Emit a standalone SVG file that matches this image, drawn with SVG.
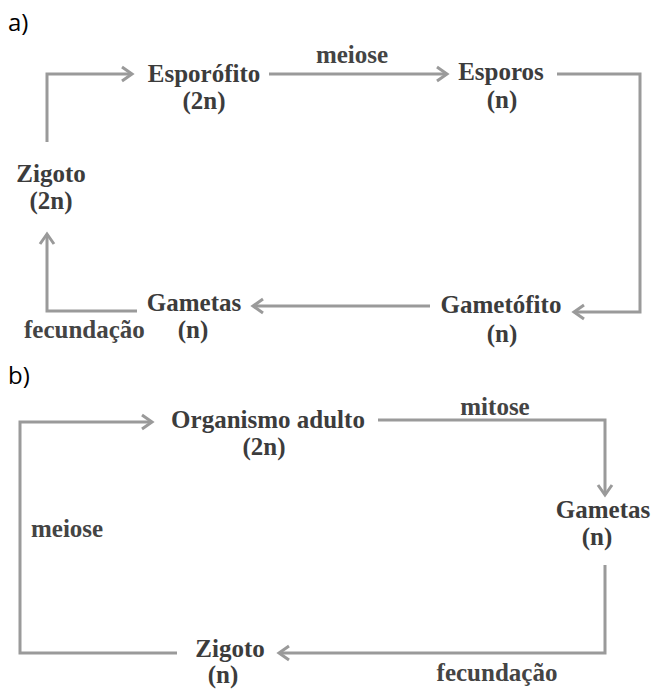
<svg xmlns="http://www.w3.org/2000/svg" width="653" height="689" viewBox="0 0 653 689">
  <style>
    .lbl { font-family: "Liberation Serif", "Times New Roman", serif; font-size: 25px; font-weight: bold; fill: #3c3c3c; text-anchor: middle; }
    .edge-lbl { font-family: "Liberation Serif", "Times New Roman", serif; font-size: 25px; font-weight: bold; fill: #444444; }
    .part { font-family: "Open Sans", "Liberation Sans", sans-serif; font-size: 24px; fill: #000000; }
    .conn { fill: none; stroke: #9a9a9a; stroke-width: 3; stroke-linejoin: miter; marker-end: url(#chev); }
  </style>
  <defs>
    <marker id="chev" markerUnits="userSpaceOnUse" markerWidth="20" markerHeight="20" viewBox="-12 -10 14 20" refX="0" refY="0" orient="auto">
      <path d="M-10,-7 L0,0 L-10,7" fill="none" stroke="#9a9a9a" stroke-width="3" stroke-linejoin="miter"/>
    </marker>
  </defs>

  <!-- part labels -->
  <text class="part" x="8" y="31">a)</text>
  <text class="part" x="8" y="384">b)</text>

  <!-- connectors: cycle a (haplodiplobionte) and cycle b (diplobionte) -->
  <g id="connectors">
    <path class="conn" d="M47,142 V74 H132"/>
    <path class="conn" d="M269,74 H447"/>
    <path class="conn" d="M557,74 H640 V312 H574"/>
    <path class="conn" d="M430,306 H253"/>
    <path class="conn" d="M137,311 H47 V234"/>

    <path class="conn" d="M177,653 H20 V422 H152"/>
    <path class="conn" d="M378,420 H605 V495"/>
    <path class="conn" d="M605,565 V653 H279"/>
  </g>

  <!-- edge labels -->
  <g id="edge-labels">
    <text class="edge-lbl" x="352" y="63" text-anchor="middle">meiose</text>
    <text class="edge-lbl" x="24" y="338">fecundação</text>
    <text class="edge-lbl" x="495" y="415" text-anchor="middle">mitose</text>
    <text class="edge-lbl" x="31" y="537">meiose</text>
    <text class="edge-lbl" x="497" y="681" text-anchor="middle">fecundação</text>
  </g>

  <!-- nodes, cycle a -->
  <g id="a-esporofito">
    <text class="lbl" x="204" y="82">Esporófito</text>
    <text class="lbl" x="204" y="109">(2n)</text>
  </g>
  <g id="a-esporos">
    <text class="lbl" x="501" y="80">Esporos</text>
    <text class="lbl" x="502" y="108">(n)</text>
  </g>
  <g id="a-gametofito">
    <text class="lbl" x="501" y="313">Gametófito</text>
    <text class="lbl" x="502" y="342">(n)</text>
  </g>
  <g id="a-gametas">
    <text class="lbl" x="194" y="311">Gametas</text>
    <text class="lbl" x="193" y="338">(n)</text>
  </g>
  <g id="a-zigoto">
    <text class="lbl" x="51" y="182">Zigoto</text>
    <text class="lbl" x="51" y="209">(2n)</text>
  </g>

  <!-- nodes, cycle b -->
  <g id="b-organismo">
    <text class="lbl" x="268" y="428">Organismo adulto</text>
    <text class="lbl" x="264" y="455">(2n)</text>
  </g>
  <g id="b-gametas">
    <text class="lbl" x="603" y="518">Gametas</text>
    <text class="lbl" x="597" y="545">(n)</text>
  </g>
  <g id="b-zigoto">
    <text class="lbl" x="230" y="657">Zigoto</text>
    <text class="lbl" x="223" y="683">(n)</text>
  </g>
</svg>
